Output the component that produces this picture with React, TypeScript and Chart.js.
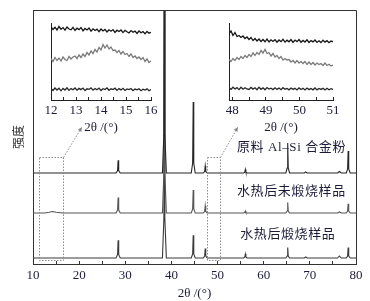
import React, { useEffect, useRef } from 'react';
import { Chart, registerables } from 'chart.js';
Chart.register(...registerables);
Chart.defaults.font.family = "'Liberation Serif', serif";

// ---------- main pattern: shared 2θ sample points ----------
const TWO_THETA = [
  10, 12.5, 13.5, 14.2, 15, 16.5,
  28.0, 28.33, 28.45, 28.57, 28.9,
  38.05, 38.37, 38.47, 38.57, 38.9,
  44.3, 44.6, 44.72, 44.84, 45.15,
  46.9, 47.2, 47.32, 47.44, 47.75,
  55.65, 55.9, 56.02, 56.14, 56.4,
  64.8, 65.08, 65.2, 65.32, 65.6,
  68.8, 69.1, 69.4,
  76.0, 76.4, 76.8,
  77.9, 78.18, 78.3, 78.42, 78.75,
  80,
];
// intensities above each trace's own baseline
const RAW_ALSI = [
  0, 0, 0, 0, 0, 0,
  0, 2.5, 12.7, 2.5, 0,
  0, 40, 262, 40, 0,
  0, 10, 71, 10, 0,
  0, 1.5, 7, 1.5, 0,
  0, 0.8, 3.5, 0.8, 0,
  0, 5, 30, 5, 0,
  0, 1, 0,
  0, 1.5, 0,
  0, 4, 22, 4, 0,
  0,
];
const HYDRO_UNCALCINED = [
  0, 0, 0.8, 1.5, 0.8, 0,
  0, 3, 15.6, 3, 0,
  0, 40, 262, 40, 0,
  0, 4, 23, 4, 0,
  0, 1.5, 7, 1.5, 0,
  0, 0.5, 2, 0.5, 0,
  0, 2, 10.6, 2, 0,
  0, 0, 0,
  0, 1, 0,
  0, 2, 9.3, 2, 0,
  0,
];
const HYDRO_CALCINED = [
  0, 0, 0, 0, 0, 0,
  0, 3.5, 17.7, 3.5, 0,
  0, 40, 262, 40, 0,
  0, 4, 22.7, 4, 0,
  0, 2, 9.4, 2, 0,
  0, 1, 4, 1, 0,
  0, 2, 10.4, 2, 0,
  0, 1, 0,
  0, 2, 0,
  0, 2, 10.4, 2, 0,
  0,
];
const OFFSET_RAW = 91;
const OFFSET_UNCALC = 51;
const OFFSET_CALC = 6;

const X_TICKS_MAIN = [10, 15, 20, 25, 30, 35, 40, 45, 50, 55, 60, 65, 70, 75, 80];
const X_LABELS_MAIN = [10, 20, 30, 40, 50, 60, 70, 80];
const LABEL_RAW = '原料 Al–Si 合金粉';
const LABEL_UNCALC = '水热后未煅烧样品';
const LABEL_CALC = '水热后煅烧样品';

// ---------- inset 1 (12–16°) ----------
const INSET1_RANGE = [12, 16];
const INSET1_TICKS = [12, 12.5, 13, 13.5, 14, 14.5, 15, 15.5, 16];
const INSET1_TOP = [73, 70.5, 72.8, 70, 73.5, 70.8, 72.4, 69.8, 73, 71, 70.2, 72.6, 69.5, 71.8, 70.4, 72.5, 69.2, 71.5, 70, 72, 68.8, 71.2, 69.5, 70.8, 68.4, 71, 69, 70.6, 68, 70.2, 68.8, 70.4, 67.6, 69.8, 68.5, 70, 67.4, 69.6, 68.2, 67, 69.4, 67.8, 68.9, 66.6, 69, 67.2, 68.4, 66.2, 68.6, 66.8, 67.6];
const INSET1_MID = [41.5, 38.5, 42.5, 39.5, 42, 39, 43, 40.5, 39.5, 43.5, 41, 43, 44, 41.5, 45, 42.5, 46, 43.5, 47.5, 45, 49, 46.5, 50.5, 48, 52.5, 50, 55.5, 52, 55, 51, 53, 49.5, 50, 47.5, 49.5, 46, 48.5, 45.5, 46.5, 43.5, 46, 42.5, 44, 41.5, 43, 40.5, 42.5, 38.5, 41, 37.5, 39];
const INSET1_BOT = [11.5, 9.5, 12, 10, 11.8, 9.2, 11.6, 10, 12.2, 9.6, 11.4, 10.2, 12, 9.8, 11.6, 10.4, 11.9, 9.4, 11.2, 10.6, 12.1, 9.8, 11.5, 10.2, 11.9, 9.5, 11.3, 10.4, 12, 9.7, 11.2, 10.5, 11.8, 9.6, 11.4, 10.1, 11.7, 9.5, 11, 10.4, 11.5, 9.4, 10.9, 10.2, 11.3, 9.3, 10.8, 9.9, 11.1, 9.2, 10.4];

// ---------- inset 2 (48–51°) ----------
const INSET2_RANGE = [47.9, 51];
const INSET2_TICKS = [48, 48.5, 49, 49.5, 50, 50.5, 51];
const INSET2_TOP = [66.5, 69, 64.5, 67.5, 63.5, 64.5, 62.5, 64, 61.5, 63, 60.5, 62.5, 59.5, 61.5, 59, 61, 58.5, 60.5, 58.2, 60.8, 58, 60.2, 58.5, 60.4, 57.8, 60, 58.3, 60.6, 57.9, 59.8, 58.2, 60.4, 57.6, 59.9, 58.4, 60.5, 57.8, 59.6, 58, 60.2, 57.5, 59.4, 58.1, 60, 57.6, 59.2, 57.4, 59.8, 57.9, 59.3, 57.3, 59.1, 58.2];
const INSET2_MID = [40.5, 38.5, 41.5, 39.5, 42.5, 40.5, 43.5, 41.5, 44.5, 42.5, 45.5, 43.5, 47, 44.5, 47.5, 45.5, 49.5, 47, 50.5, 46.5, 47.5, 44, 46.5, 43, 44.5, 41.5, 43.5, 40, 41.5, 40, 40.5, 38, 39.5, 37, 39.5, 37, 38.5, 36.5, 38.5, 35.5, 38, 35.5, 37.5, 35, 37, 35.5, 36.5, 34.5, 37, 34.5, 35.8, 34, 35];
const INSET2_BOT = [12.5, 10.6, 12.8, 11, 12.4, 10.4, 12.7, 10.8, 12.3, 11, 10.5, 12.6, 10.9, 12.2, 10.3, 12.8, 10.7, 12.1, 10.2, 12.4, 10.9, 11.8, 10.4, 12.2, 10.6, 12, 10.3, 12.3, 10.8, 11.6, 10.2, 12, 10.6, 11.8, 10.1, 12.1, 10.5, 11.7, 10, 11.9, 10.4, 11.6, 10.2, 12, 10.1, 11.5, 10.6, 11.8, 10, 11.7, 10.3, 11.4, 10.6];

const TEXT_COLOR = '#1c1c3a';
const AXIS_COLOR = '#333';
const AXIS_TITLE = '2θ /(°)';

// annotation anchors in data units
const ZOOM_BOXES = [
  { x0: 11.3, x1: 16.5, arrowTo: [20.6, 137] },
  { x0: 47.7, x1: 50.5, arrowTo: [54.4, 137] },
];
const ZOOM_BOX_Y = [4, 107];

function mainPlugin() {
  return {
    id: 'mainAnnot',
    beforeDatasetsDraw(chart: any) {
      const { ctx, scales } = chart;
      const xs = scales.x, ys = scales.y;
      ctx.save();
      ctx.fillStyle = TEXT_COLOR;
      ctx.textBaseline = 'middle';
      ctx.textAlign = 'left';
      ctx.font = "13px 'Liberation Serif', 'Noto Sans CJK SC'";
      try { (ctx as any).letterSpacing = '0.6px'; } catch (e) {}
      ctx.fillText(LABEL_RAW, xs.getPixelForValue(54.2), ys.getPixelForValue(116));
      ctx.fillText(LABEL_UNCALC, xs.getPixelForValue(54.2), ys.getPixelForValue(72));
      ctx.fillText(LABEL_CALC, xs.getPixelForValue(54.9), ys.getPixelForValue(29));
      ctx.restore();
    },
    afterDatasetsDraw(chart: any) {
      const { ctx, scales } = chart;
      const xs = scales.x, ys = scales.y;
      ctx.save();
      ctx.strokeStyle = '#8a8a8a';
      ctx.lineWidth = 1;
      ctx.setLineDash([1.5, 1.5]);
      for (const b of ZOOM_BOXES) {
        const l = Math.round(xs.getPixelForValue(b.x0)) + 0.5;
        const r = Math.round(xs.getPixelForValue(b.x1)) + 0.5;
        const t = Math.round(ys.getPixelForValue(ZOOM_BOX_Y[1])) + 0.5;
        const bt = Math.round(ys.getPixelForValue(ZOOM_BOX_Y[0])) + 0.5;
        ctx.strokeRect(l, t, r - l, bt - t);
        const ax = xs.getPixelForValue(b.arrowTo[0]);
        const ay = ys.getPixelForValue(b.arrowTo[1]);
        ctx.beginPath();
        ctx.moveTo(r, t);
        ctx.lineTo(ax, ay);
        ctx.stroke();
        ctx.setLineDash([]);
        const ang = Math.atan2(ay - t, ax - r);
        ctx.fillStyle = '#8a8a8a';
        ctx.beginPath();
        ctx.moveTo(ax, ay);
        ctx.lineTo(ax - 5 * Math.cos(ang - 0.45), ay - 5 * Math.sin(ang - 0.45));
        ctx.lineTo(ax - 5 * Math.cos(ang + 0.45), ay - 5 * Math.sin(ang + 0.45));
        ctx.closePath();
        ctx.fill();
        ctx.setLineDash([1.5, 1.5]);
      }
      ctx.restore();
    },
    afterDraw(chart: any) {
      const { ctx, chartArea } = chart;
      ctx.save();
      ctx.strokeStyle = AXIS_COLOR;
      ctx.lineWidth = 1;
      ctx.beginPath();
      ctx.moveTo(chartArea.left, chartArea.top + 0.5);
      ctx.lineTo(chartArea.right + 0.5, chartArea.top + 0.5);
      ctx.lineTo(chartArea.right + 0.5, chartArea.bottom);
      ctx.stroke();
      ctx.restore();
    },
  };
}

function series(values: number[], offset: number) {
  return TWO_THETA.map((x, i) => ({ x, y: values[i] + offset }));
}

function makeMain(canvas: HTMLCanvasElement) {
  const ds = (data: any, color: string) => ({
    data, borderColor: color, borderWidth: 1.1, pointRadius: 0, tension: 0, fill: false,
  });
  return new Chart(canvas, {
    type: 'line',
    data: {
      datasets: [
        ds(series(RAW_ALSI, OFFSET_RAW), '#262626'),
        ds(series(HYDRO_UNCALCINED, OFFSET_UNCALC), '#555555'),
        ds(series(HYDRO_CALCINED, OFFSET_CALC), '#3a3a3a'),
      ],
    },
    options: {
      responsive: false,
      animation: false,
      layout: { padding: { left: 0, top: 10, right: 14, bottom: 0 } },
      plugins: { legend: { display: false }, tooltip: { enabled: false } },
      scales: {
        x: {
          type: 'linear', min: 10, max: 80,
          afterFit: (s: any) => { s.height = 37; },
          afterBuildTicks: (s: any) => { s.ticks = X_TICKS_MAIN.map((v) => ({ value: v })); },
          ticks: {
            autoSkip: false, maxRotation: 0, padding: 7,
            color: TEXT_COLOR, font: { size: 13 },
            callback: (v: any) => (X_LABELS_MAIN.includes(Number(v)) ? String(v) : ''),
          },
          grid: { drawOnChartArea: false, drawTicks: true, tickLength: -3, color: AXIS_COLOR },
          border: { display: true, color: AXIS_COLOR, width: 1 },
          title: { display: true, text: AXIS_TITLE, color: TEXT_COLOR, font: { size: 13 }, padding: { top: 0, bottom: 0 } },
        },
        y: {
          type: 'linear', min: 0, max: 254,
          afterFit: (s: any) => { s.width = 33; },
          ticks: { display: false },
          grid: { display: false },
          border: { display: true, color: AXIS_COLOR, width: 1 },
          title: { display: true, text: '强度', color: '#333', font: { family: "'Noto Sans CJK SC'", size: 12 }, padding: { top: 11, bottom: 0 } },
        },
      },
    },
    plugins: [mainPlugin()],
  } as any);
}

function insetSeries(values: number[], range: number[]) {
  const step = (range[1] - range[0]) / (values.length - 1);
  return values.map((y, i) => ({ x: range[0] + i * step, y }));
}

function makeInset(canvas: HTMLCanvasElement, range: number[], tickVals: number[], top: number[], mid: number[], bot: number[], rightPad: number) {
  const ds = (data: any, color: string) => ({
    data, borderColor: color, borderWidth: 1.3, pointRadius: 0, tension: 0, fill: false,
  });
  return new Chart(canvas, {
    type: 'line',
    data: {
      datasets: [
        ds(insetSeries(top, range), '#151515'),
        ds(insetSeries(mid, range), '#7a7a7a'),
        ds(insetSeries(bot, range), '#262626'),
      ],
    },
    options: {
      responsive: false,
      animation: false,
      layout: { padding: { left: 0, top: 10, right: rightPad, bottom: 0 } },
      plugins: { legend: { display: false }, tooltip: { enabled: false } },
      scales: {
        x: {
          type: 'linear', min: range[0], max: range[1],
          afterFit: (s: any) => { s.height = 36; },
          afterBuildTicks: (s: any) => { s.ticks = tickVals.map((v) => ({ value: v })); },
          ticks: {
            autoSkip: false, maxRotation: 0, padding: 6,
            color: TEXT_COLOR, font: { size: 13 },
            callback: (v: any) => (Math.abs(v - Math.round(v)) < 1e-6 ? String(Math.round(v)) : ''),
          },
          grid: { drawOnChartArea: false, drawTicks: true, tickLength: -3, color: '#222' },
          border: { display: true, color: '#222', width: 1 },
          title: { display: true, text: AXIS_TITLE, color: TEXT_COLOR, font: { size: 13 }, padding: { top: 0, bottom: 1 } },
        },
        y: {
          type: 'linear', min: 0, max: 77,
          afterFit: (s: any) => { s.width = 20; },
          ticks: { display: false },
          grid: { display: false },
          border: { display: true, color: '#222', width: 1 },
        },
      },
    },
  } as any);
}

export default function App() {
  const mainRef = useRef<HTMLCanvasElement>(null);
  const in1Ref = useRef<HTMLCanvasElement>(null);
  const in2Ref = useRef<HTMLCanvasElement>(null);
  useEffect(() => {
    const charts = [
      makeMain(mainRef.current!),
      makeInset(in1Ref.current!, INSET1_RANGE, INSET1_TICKS, INSET1_TOP, INSET1_MID, INSET1_BOT, 15),
      makeInset(in2Ref.current!, INSET2_RANGE, INSET2_TICKS, INSET2_TOP, INSET2_MID, INSET2_BOT, 16),
    ];
    return () => charts.forEach((c) => c.destroy());
  }, []);
  return (
    <div style={{ position: 'fixed', left: 0, top: 0, width: 370, height: 301, background: '#fff' }}>
      <canvas ref={mainRef} width={370} height={301} style={{ position: 'absolute', left: 0, top: 0 }} />
      <canvas ref={in1Ref} width={135} height={123} style={{ position: 'absolute', left: 31, top: 13 }} />
      <canvas ref={in2Ref} width={140} height={123} style={{ position: 'absolute', left: 209, top: 13 }} />
    </div>
  );
}
